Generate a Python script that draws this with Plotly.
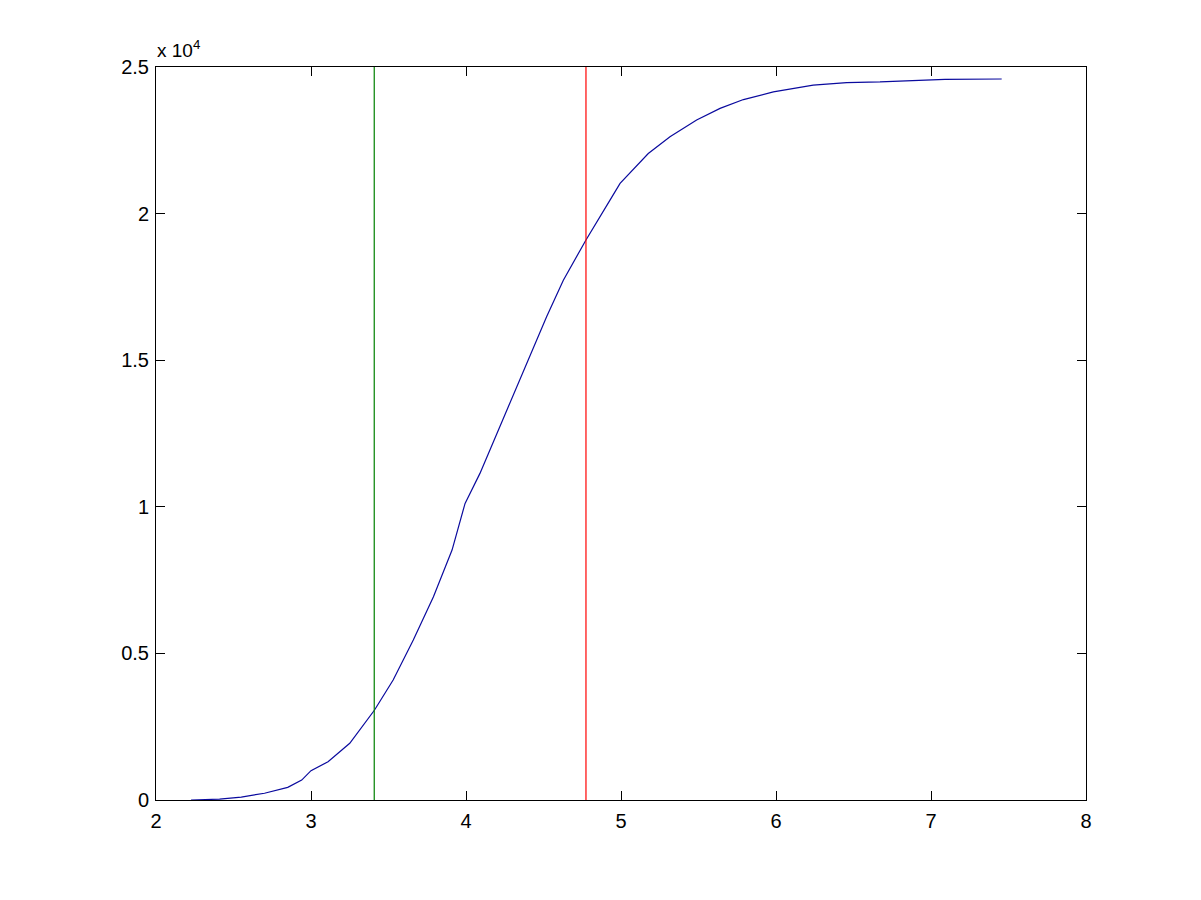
import plotly.graph_objects as go

# CDF-like curve data
curve_x = [2.226, 2.41, 2.55, 2.70, 2.85, 2.94, 3.0, 3.11, 3.25, 3.41, 3.53, 3.66, 3.79, 3.91,
           3.994, 4.09, 4.273, 4.392, 4.52, 4.628, 4.774, 4.929, 4.994, 5.176, 5.316, 5.488,
           5.639, 5.79, 5.983, 6.24, 6.456, 6.671, 6.84, 7.09, 7.456]
curve_y = [0, 30, 100, 230, 430, 680, 1000, 1306, 1933, 3070, 4092, 5456, 6933, 8525,
           10117, 11140, 13410, 14890, 16480, 17730, 19100, 20460, 21030, 22050, 22620, 23190,
           23590, 23890, 24150, 24380, 24470, 24490, 24530, 24580, 24590]

green_x = [3.408, 3.408]
red_x = [4.774, 4.774]
vline_y = [0, 25000]

x_ticks = [2, 3, 4, 5, 6, 7, 8]
y_tickvals = [0, 5000, 10000, 15000, 20000, 25000]
y_ticktext = ["0", "0.5", "1", "1.5", "2", "2.5"]

FONT = "Liberation Sans, Arial, Helvetica, sans-serif"

fig = go.Figure()
fig.add_trace(go.Scatter(x=curve_x, y=curve_y, mode="lines",
                         line=dict(color="#0a0a9e", width=1.2), showlegend=False))
fig.add_trace(go.Scatter(x=green_x, y=vline_y, mode="lines",
                         line=dict(color="#008000", width=1.2), showlegend=False))
fig.add_trace(go.Scatter(x=red_x, y=vline_y, mode="lines",
                         line=dict(color="#ff0000", width=1.2), showlegend=False))

axis_common = dict(showline=True, linecolor="black", linewidth=1, mirror="allticks",
                   ticks="inside", ticklen=9, tickcolor="black", tickwidth=1,
                   showgrid=False, zeroline=False,
                   tickfont=dict(family=FONT, size=20, color="black"))

fig.update_layout(
    width=1193, height=892,
    margin=dict(l=148, r=115, t=59, b=100),
    paper_bgcolor="white", plot_bgcolor="white",
    xaxis=dict(range=[2, 8], tickvals=x_ticks, ticktext=[str(v) for v in x_ticks],
               ticklabelstandoff=3, **axis_common),
    yaxis=dict(range=[0, 25000], tickvals=y_tickvals, ticktext=y_ticktext,
               ticklabelstandoff=2, **axis_common),
    annotations=[dict(text="x 10<sup>4</sup>", xref="paper", yref="paper", x=-0.001, y=1.024,
                      xanchor="left", yanchor="middle", showarrow=False,
                      font=dict(family=FONT, size=19, color="black"))],
)

fig.write_html("out.html")
